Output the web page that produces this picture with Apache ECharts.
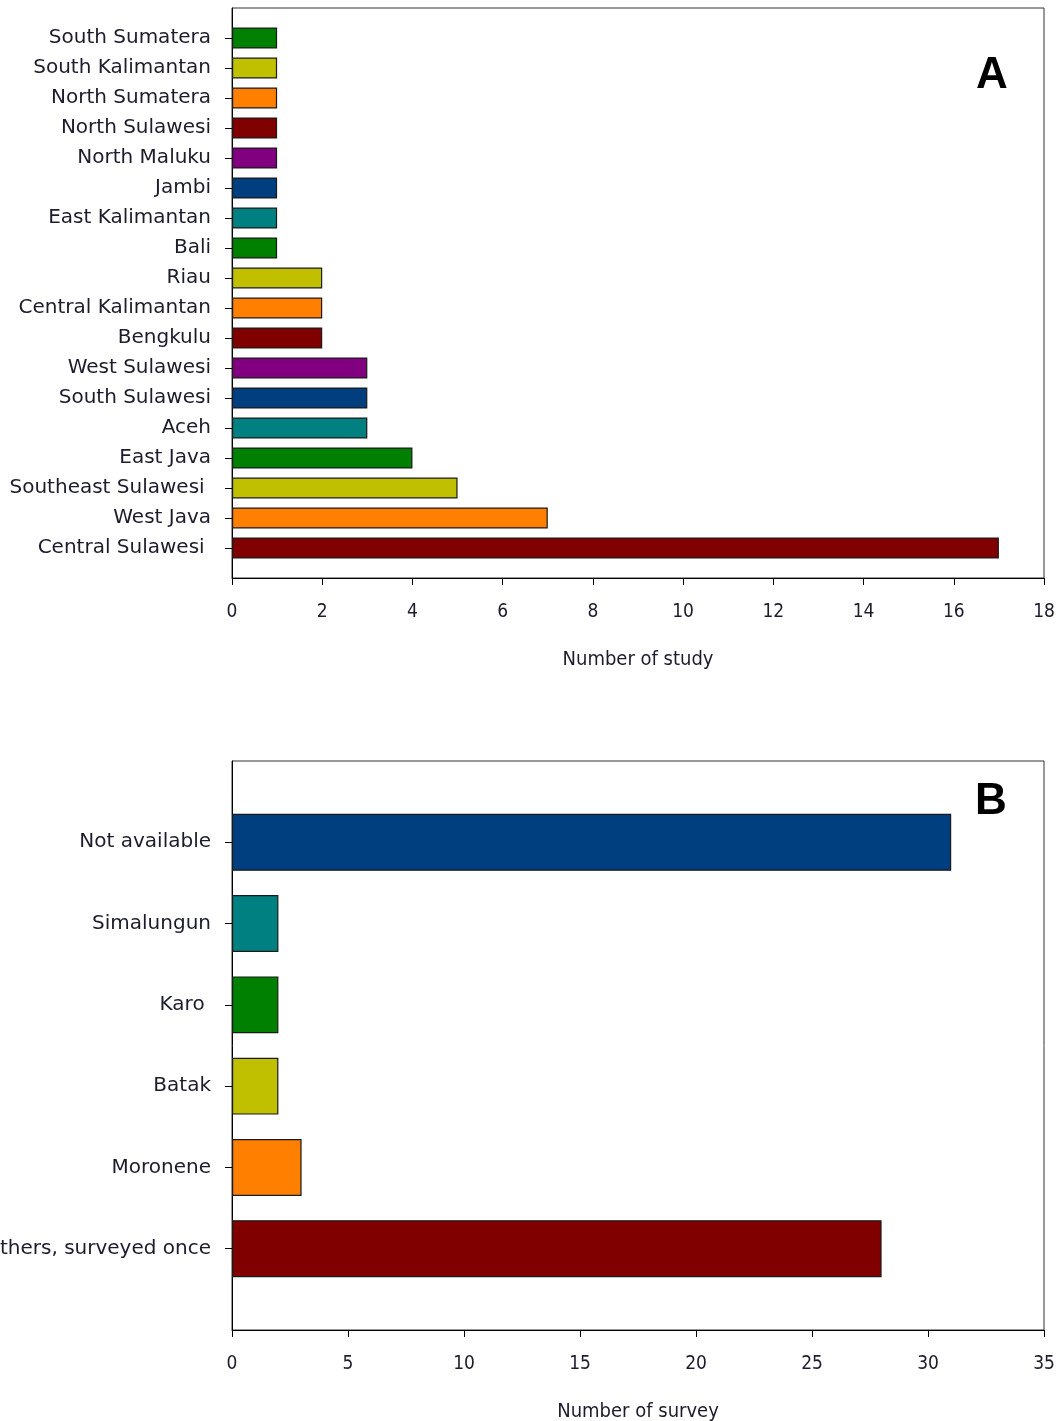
<!DOCTYPE html>
<html>
<head>
<meta charset="utf-8">
<script src="https://cdn.jsdelivr.net/npm/echarts@6/dist/echarts.min.js"></script>
<style>
  html, body { margin: 0; padding: 0; background: #fff; }
  #chart { width: 1060px; height: 1421px; }
</style>
</head>
<body>
<div id="chart"></div>
<script>
// Panel A: studies per province (top to bottom)
const regions = [
  'South Sumatera', 'South Kalimantan', 'North Sumatera', 'North Sulawesi',
  'North Maluku', 'Jambi', 'East Kalimantan', 'Bali', 'Riau',
  'Central Kalimantan', 'Bengkulu', 'West Sulawesi', 'South Sulawesi',
  'Aceh', 'East Java', 'Southeast Sulawesi ', 'West Java', 'Central Sulawesi '
];
const studyCounts = [1, 1, 1, 1, 1, 1, 1, 1, 2, 2, 2, 3, 3, 3, 4, 5, 7, 17];
const studyTicks = { min: 0, max: 18, interval: 2 };

// Panel B: surveys per ethnic group (top to bottom)
const groups = ['Not available', 'Simalungun', 'Karo ', 'Batak', 'Moronene', 'Others, surveyed once'];
const surveyCounts = [31, 2, 2, 2, 3, 28];
const surveyTicks = { min: 0, max: 35, interval: 5 };

// Bar fill colours
const cycleA = ['#008000', '#c0c000', '#ff8000', '#800000', '#800080', '#003f7f', '#008080'];
const coloursB = ['#003f7f', '#008080', '#008000', '#c0c000', '#ff8000', '#800000'];

const textColor = '#1c1c2c';
const labelFont = '"DejaVu Sans", "Open Sans", sans-serif';
const tickFont = '"Liberation Sans Narrow", "DejaVu Sans Condensed", Roboto, sans-serif';

// Pad the category list with an empty slot at each end so bars sit one band
// in from the frame edges.
function padded(arr, fill) { return [fill].concat(arr, [fill]); }

function yAxisFor(gridIndex, cats) {
  const n = cats.length + 2;
  return {
    type: 'category',
    gridIndex: gridIndex,
    inverse: true,
    boundaryGap: false,
    data: padded(cats, ''),
    axisLine: { show: true, lineStyle: { color: '#000', width: 1 } },
    axisTick: {
      show: true, inside: false, length: 7,
      lineStyle: { color: '#000', width: 1 },
      interval: function (idx) { return idx > 0 && idx < n - 1; }
    },
    axisLabel: {
      interval: 0, margin: 21, color: textColor,
      fontFamily: labelFont, fontSize: 20, padding: [3, 0, 0, 0]
    },
    splitLine: { show: false }
  };
}

function xAxisFor(gridIndex, ticks, name) {
  return {
    type: 'value',
    gridIndex: gridIndex,
    min: ticks.min, max: ticks.max, interval: ticks.interval,
    name: name,
    nameLocation: 'middle',
    nameGap: 72,
    nameTextStyle: { color: textColor, fontFamily: tickFont, fontSize: 20 },
    axisLine: { show: true, lineStyle: { color: '#000', width: 1 } },
    axisTick: { show: true, inside: false, length: 7, lineStyle: { color: '#000', width: 1 } },
    axisLabel: { margin: 25, color: textColor, fontFamily: tickFont, fontSize: 19 },
    splitLine: { show: false }
  };
}

function barSeries(idx, values, colourOf) {
  return {
    type: 'bar',
    xAxisIndex: idx,
    yAxisIndex: idx,
    barWidth: '70%',
    silent: true,
    itemStyle: { borderColor: '#1a1a1a', borderWidth: 1.2 },
    data: padded(values.map(function (v, i) {
      return { value: v, itemStyle: { color: colourOf(i) } };
    }), null)
  };
}

const gridBase = {
  show: true, borderColor: '#333', borderWidth: 1,
  backgroundColor: 'transparent', containLabel: false, outerBoundsMode: 'none'
};

const chart = echarts.init(document.getElementById('chart'), null, { renderer: 'canvas' });
chart.setOption({
  backgroundColor: '#fff',
  animation: false,
  grid: [
    Object.assign({ left: 232, top: 8, width: 812, height: 570 }, gridBase),
    Object.assign({ left: 232, top: 761, width: 812, height: 569 }, gridBase)
  ],
  xAxis: [
    xAxisFor(0, studyTicks, 'Number of study'),
    xAxisFor(1, surveyTicks, 'Number of survey')
  ],
  yAxis: [
    yAxisFor(0, regions),
    yAxisFor(1, groups)
  ],
  series: [
    barSeries(0, studyCounts, function (i) { return cycleA[i % cycleA.length]; }),
    barSeries(1, surveyCounts, function (i) { return coloursB[i]; })
  ],
  graphic: [
    { type: 'text', x: 992, y: 76, style: { text: 'A', fill: '#000', font: 'bold 44px "Liberation Sans", Arial, sans-serif', textAlign: 'center', textVerticalAlign: 'middle' } },
    { type: 'text', x: 991, y: 802, style: { text: 'B', fill: '#000', font: 'bold 44px "Liberation Sans", Arial, sans-serif', textAlign: 'center', textVerticalAlign: 'middle' } }
  ]
});
</script>
</body>
</html>
